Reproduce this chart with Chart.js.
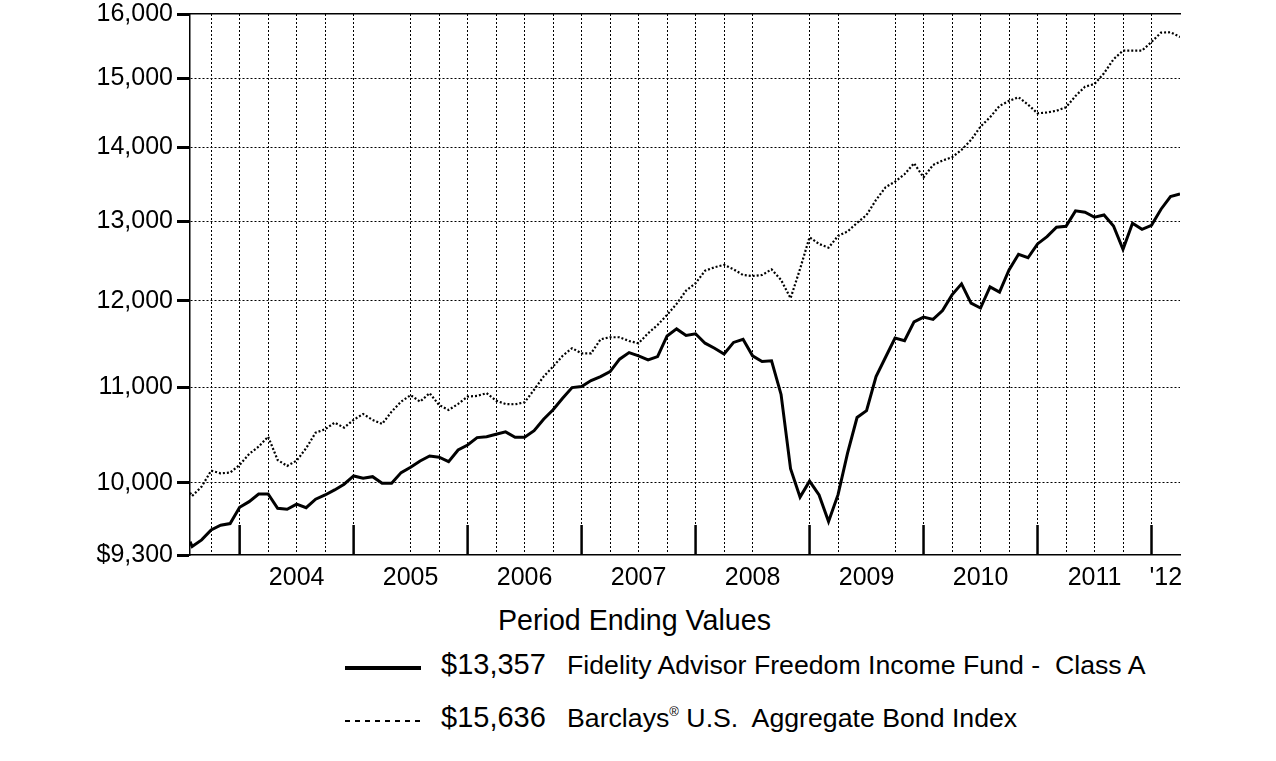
<!DOCTYPE html>
<html>
<head>
<meta charset="utf-8">
<title>Period Ending Values</title>
<script src="https://cdn.jsdelivr.net/npm/chart.js@4.4.1/dist/chart.umd.min.js"></script>
<style>
  body { margin: 0; background: #fff; }
  #wrap { position: relative; width: 1276px; height: 761px; font-family: "Liberation Sans", Arial, sans-serif; color: #000; }
  #grafico { position: absolute; left: 0; top: 0; }
  #titulo { position: absolute; left: 0; width: 1269px; top: 606px; text-align: center; font-size: 28.6px; line-height: 1; }
  .fila { position: absolute; left: 345px; width: 900px; height: 40px; }
  .muestra { position: absolute; left: 0; width: 76px; }
  .muestra.solida { top: 16px; height: 4px; background: #000; }
  .muestra.punteada { top: 17px; height: 2px; background: repeating-linear-gradient(to right, #000 0 5px, transparent 5px 10px); }
  .valor { position: absolute; left: 96px; top: 0; font-size: 29px; line-height: 1; white-space: pre; }
  .nombre { position: absolute; left: 222px; top: 2px; font-size: 26.7px; line-height: 1; white-space: pre; }
  .nombre sup { font-size: 13px; vertical-align: 11px; line-height: 0; }
</style>
</head>
<body>
<div id="wrap">
  <canvas id="grafico" width="1276" height="600"></canvas>
  <div id="titulo">Period Ending Values</div>
  <div id="leyenda"></div>
</div>
<script>
// Datos (valor de una inversion de $10,000, escala logaritmica)

const periodos = [
  '2003-07-24',
  '2003-07', '2003-08', '2003-09', '2003-10', '2003-11', '2003-12',
  '2004-01', '2004-02', '2004-03', '2004-04', '2004-05', '2004-06', '2004-07', '2004-08', '2004-09', '2004-10', '2004-11', '2004-12',
  '2005-01', '2005-02', '2005-03', '2005-04', '2005-05', '2005-06', '2005-07', '2005-08', '2005-09', '2005-10', '2005-11', '2005-12',
  '2006-01', '2006-02', '2006-03', '2006-04', '2006-05', '2006-06', '2006-07', '2006-08', '2006-09', '2006-10', '2006-11', '2006-12',
  '2007-01', '2007-02', '2007-03', '2007-04', '2007-05', '2007-06', '2007-07', '2007-08', '2007-09', '2007-10', '2007-11', '2007-12',
  '2008-01', '2008-02', '2008-03', '2008-04', '2008-05', '2008-06', '2008-07', '2008-08', '2008-09', '2008-10', '2008-11', '2008-12',
  '2009-01', '2009-02', '2009-03', '2009-04', '2009-05', '2009-06', '2009-07', '2009-08', '2009-09', '2009-10', '2009-11', '2009-12',
  '2010-01', '2010-02', '2010-03', '2010-04', '2010-05', '2010-06', '2010-07', '2010-08', '2010-09', '2010-10', '2010-11', '2010-12',
  '2011-01', '2011-02', '2011-03', '2011-04', '2011-05', '2011-06', '2011-07', '2011-08', '2011-09', '2011-10', '2011-11', '2011-12',
  '2012-01', '2012-02', '2012-03'
];

const valoresFondo = [
  9425,
  9380, 9442, 9537, 9582, 9598, 9756,
  9811, 9887, 9887, 9746, 9737, 9786, 9752, 9835, 9877, 9927, 9984, 10067,
  10044, 10060, 9994, 9994, 10101, 10156, 10220, 10271, 10258, 10213, 10333, 10385,
  10462, 10472, 10497, 10522, 10466, 10465, 10535, 10656, 10758, 10884, 11000, 11012,
  11078, 11122, 11178, 11318, 11393, 11356, 11310, 11348, 11585, 11667, 11590, 11610,
  11501, 11443, 11377, 11510, 11546, 11356, 11291, 11300, 10925, 10141, 9856, 10015,
  9877, 9618, 9880, 10300, 10675, 10749, 11123, 11340, 11560, 11530, 11750, 11806,
  11779, 11884, 12072, 12206, 11972, 11914, 12170, 12106, 12379, 12573, 12530, 12705,
  12799, 12919, 12932, 13133, 13116, 13050, 13079, 12936, 12637, 12971, 12893, 12945,
  13155, 13322, 13357
];

const valoresIndice = [
  9900,
  9867, 9960, 10121, 10094, 10101, 10179,
  10292, 10368, 10472, 10230, 10169, 10223, 10351, 10514, 10550, 10620, 10567, 10650,
  10713, 10649, 10606, 10738, 10846, 10917, 10846, 10939, 10810, 10756, 10821, 10901,
  10909, 10939, 10857, 10821, 10817, 10840, 10976, 11122, 11235, 11356, 11443, 11385,
  11385, 11546, 11570, 11570, 11527, 11500, 11616, 11713, 11832, 11963, 12124, 12214,
  12368, 12411, 12441, 12385, 12315, 12303, 12315, 12385, 12255, 12031, 12390, 12791,
  12704, 12657, 12808, 12864, 12976, 13079, 13278, 13448, 13524, 13624, 13776, 13582,
  13752, 13813, 13859, 13961, 14101, 14291, 14426, 14591, 14665, 14718, 14610, 14484,
  14495, 14521, 14571, 14737, 14875, 14916, 15077, 15290, 15423, 15423, 15423, 15558,
  15704, 15710, 15636
];

const nombreFondo = 'Fidelity Advisor Freedom Income Fund -  Class A';
const nombreIndice = 'Barclays® U.S.  Aggregate Bond Index';

const ticksY = [9300, 10000, 11000, 12000, 13000, 14000, 15000, 16000];

// lineas verticales punteadas (fin de trimestre)
const trimestres = [
  '2003-09', '2003-12', '2004-03', '2004-06', '2004-09', '2004-12',
  '2005-06', '2005-09', '2005-12', '2006-03', '2006-06', '2006-09', '2006-12',
  '2007-03', '2007-06', '2007-09', '2007-12', '2008-03', '2008-06', '2008-12',
  '2009-03', '2009-09', '2009-12', '2010-03', '2010-06', '2010-09', '2010-12',
  '2011-03', '2011-06', '2011-09', '2011-12'
];

const finesDeAno = ['2003-12', '2004-12', '2005-12', '2006-12', '2007-12', '2008-12', '2009-12', '2010-12', '2011-12'];
const etiquetasAno = ['2004', '2005', '2006', '2007', '2008', '2009', '2010', '2011', "'12"];


// convierte 'AAAA-MM' (fin de mes) o 'AAAA-MM-DD' a meses desde dic 2002
function mesIndice(p) {
  const [a, m, d] = p.split('-').map(Number);
  let idx = (a - 2003) * 12 + m;
  if (d) idx += d / 31 - 1;
  return idx;
}

const xMin = mesIndice(periodos[0]);
const xMax = mesIndice(periodos[periodos.length - 1]);

// centro de cada año para la etiqueta
const centrosAno = etiquetasAno.map((_, i) => {
  const ini = mesIndice(finesDeAno[i]);
  const fin = i + 1 < finesDeAno.length ? mesIndice(finesDeAno[i + 1]) : xMax;
  return (ini + fin) / 2;
});

const fuente = '"Liberation Sans", Arial, sans-serif';

function formatoMiles(v) {
  return Math.round(v).toLocaleString('en-US');
}


// marcas verticales de cada fin de año
const marcasAnuales = {
  id: 'marcasAnuales',
  afterDatasetsDraw(chart) {
    const { ctx, chartArea, scales } = chart;
    ctx.save();
    ctx.strokeStyle = '#000';
    ctx.lineWidth = 2.5;
    finesDeAno.forEach((p) => {
      const x = scales.x.getPixelForValue(mesIndice(p));
      ctx.beginPath();
      ctx.moveTo(x, chartArea.bottom);
      ctx.lineTo(x, chartArea.bottom - 30);
      ctx.stroke();
    });
    ctx.restore();
  }
};

const config = {
  type: 'line',
  data: {
    datasets: [
      {
        label: nombreFondo,
        data: periodos.map((p, i) => ({ x: mesIndice(p), y: valoresFondo[i] })),
        borderColor: '#000',
        borderWidth: 3,
        pointRadius: 0,
        tension: 0,
        xAxisID: 'x',
        yAxisID: 'y'
      },
      {
        label: nombreIndice,
        data: periodos.map((p, i) => ({ x: mesIndice(p), y: valoresIndice[i] })),
        borderColor: '#000',
        borderWidth: 2.2,
        borderDash: [2, 2],
        pointRadius: 0,
        tension: 0,
        xAxisID: 'x',
        yAxisID: 'y'
      }
    ]
  },
  options: {
    responsive: false,
    animation: false,
    layout: { padding: { left: 0, top: 14, right: 96, bottom: 0 } },
    plugins: {
      legend: { display: false },
      tooltip: { enabled: false }
    },
    scales: {
      y: {
        type: 'logarithmic',
        position: 'left',
        min: 9300,
        max: 16000,
        afterBuildTicks: (scale) => { scale.ticks = ticksY.map((v) => ({ value: v })); },
        afterFit: (scale) => { scale.width = 190; scale.paddingTop = 0; scale.paddingBottom = 0; },
        ticks: {
          color: '#000',
          padding: 4,
          font: { family: fuente, size: 25, lineHeight: 1 },
          callback: (v) => (v === 9300 ? '$' : '') + formatoMiles(v)
        },
        grid: {
          color: (c) => (c.tick && (c.tick.value === 9300 || c.tick.value === 16000)) ? 'rgba(0,0,0,0)' : '#000',
          lineWidth: 1,
          tickLength: 13,
          tickWidth: 3,
          tickColor: '#000'
        },
        border: { display: true, color: '#000', width: 1.5, dash: [2, 2] }
      },
      x: {
        type: 'linear',
        position: 'bottom',
        weight: 0,
        min: xMin,
        max: xMax,
        afterBuildTicks: (scale) => { scale.ticks = trimestres.map((p) => ({ value: mesIndice(p) })); },
        afterFit: (scale) => { scale.height = 0; },
        ticks: { display: false },
        grid: { color: '#000', lineWidth: 1, drawTicks: false },
        border: { display: true, color: '#000', width: 1.5, dash: [2, 2] }
      },
      xAnos: {
        type: 'linear',
        position: 'bottom',
        weight: 1,
        min: xMin,
        max: xMax,
        afterBuildTicks: (scale) => { scale.ticks = centrosAno.map((v) => ({ value: v })); },
        afterFit: (scale) => { scale.height = 45; },
        ticks: {
          autoSkip: false,
          maxRotation: 0,
          color: '#000',
          padding: 8,
          font: { family: fuente, size: 25 },
          callback: (v, i) => etiquetasAno[i]
        },
        grid: { display: false, drawTicks: false },
        border: { display: false }
      },
      xTope: {
        type: 'linear',
        position: 'top',
        min: xMin,
        max: xMax,
        afterFit: (scale) => { scale.height = 0; },
        ticks: { display: false },
        grid: { display: false, drawTicks: false },
        border: { display: true, color: '#000', width: 1.5 }
      }
    }
  },
  plugins: [marcasAnuales]
};

const ctx = document.getElementById('grafico').getContext('2d');
const myChart = new Chart(ctx, config);


// Leyenda: valor final de cada serie + nombre
const leyenda = document.getElementById('leyenda');
const series = [
  { clase: 'solida', valor: valoresFondo[valoresFondo.length - 1], nombre: nombreFondo, top: 650 },
  { clase: 'punteada', valor: valoresIndice[valoresIndice.length - 1], nombre: nombreIndice, top: 703 }
];

series.forEach((s) => {
  const fila = document.createElement('div');
  fila.className = 'fila';
  fila.style.top = s.top + 'px';

  const muestra = document.createElement('div');
  muestra.className = 'muestra ' + s.clase;
  fila.appendChild(muestra);

  const valor = document.createElement('div');
  valor.className = 'valor';
  valor.textContent = '$' + formatoMiles(s.valor);
  fila.appendChild(valor);

  const nombre = document.createElement('div');
  nombre.className = 'nombre';
  nombre.innerHTML = s.nombre.replace('®', '<sup>®</sup>');
  fila.appendChild(nombre);

  leyenda.appendChild(fila);
});
</script>
</body>
</html>
